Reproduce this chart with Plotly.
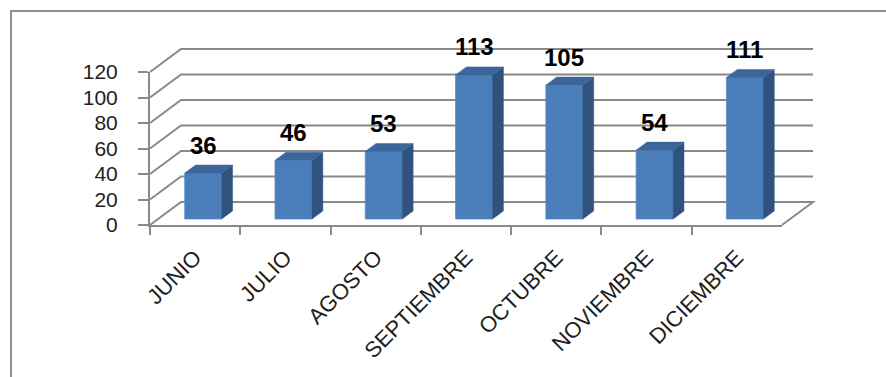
import plotly.graph_objects as go

categories = ["JUNIO", "JULIO", "AGOSTO", "SEPTIEMBRE", "OCTUBRE", "NOVIEMBRE", "DICIEMBRE"]
values = [36, 46, 53, 113, 105, 54, 111]
y_ticks = [0, 20, 40, 60, 80, 100, 120]

W, H = 886, 377
GRAY = "#898989"
TXT = "#1E1E1E"
FRONT = "#4A7EBB"
SIDE = "#30527F"
TOP = "#3C659C"

# pixel geometry of the front (floor) axes
FX0, FX1 = 150, 782
FY0, FYT = 225, 72
SX = (FX1 - FX0) / len(categories)
SY = (FY0 - FYT) / y_ticks[-1]
dxu = 31 / SX          # depth offset in x units
dyu = 23 / SY          # depth offset in value units
F0 = 0.26              # depth fraction of bar front face
BD = 0.35              # bar depth fraction
BW = 37 / SX           # bar width in x units

def px2x(p):
    return -0.5 + (p - FX0) / SX

def py2y(p):
    return (FY0 - p) / SY

# subplot 2 (3D drawing) domain in px
D2X0, D2X1 = 138, 840
D2YB, D2YT = 234, 26

fig = go.Figure()

# invisible trace to establish the front category axis
fig.add_trace(go.Scatter(x=categories, y=values, mode="none", hoverinfo="skip",
                         showlegend=False, xaxis="x", yaxis="y"))

n = len(categories)
xs_front = [i + F0 * dxu for i in range(n)]
base = F0 * dyu
fig.add_trace(go.Bar(x=xs_front, y=values, base=base, width=BW,
                     marker=dict(color=FRONT, line=dict(color="#5A8CC8", width=0.8)),
                     showlegend=False, hoverinfo="skip", xaxis="x2", yaxis="y2"))

bdx, bdy = BD * dxu, BD * dyu
for i, v in enumerate(values):
    xl = xs_front[i] - BW / 2
    xr = xs_front[i] + BW / 2
    top = base + v
    # side face
    fig.add_trace(go.Scatter(
        x=[xr, xr + bdx, xr + bdx, xr, xr],
        y=[base, base + bdy, top + bdy, top, base],
        fill="toself", fillcolor=SIDE, mode="lines", line=dict(color=SIDE, width=0.5),
        showlegend=False, hoverinfo="skip", xaxis="x2", yaxis="y2"))
    # top face
    fig.add_trace(go.Scatter(
        x=[xl, xr, xr + bdx, xl + bdx, xl],
        y=[top, top, top + bdy, top + bdy, top],
        fill="toself", fillcolor=TOP, mode="lines", line=dict(color=TOP, width=0.5),
        showlegend=False, hoverinfo="skip", xaxis="x2", yaxis="y2"))

shapes = []
xl_end = -0.5
xr_end = n - 0.5
for t in y_ticks:
    path = f"M {xl_end},{t} L {xl_end + dxu},{t + dyu} L {xr_end + dxu},{t + dyu}"
    if t == 0:
        path += f" L {xr_end},{t}"
    shapes.append(dict(type="path", path=path, xref="x2", yref="y2", layer="below",
                       line=dict(color=GRAY, width=2)))

# outer frame
shapes.append(dict(type="path", xref="paper", yref="paper",
                   path=f"M {11/W},0 L {11/W},{1-11/H} L 1,{1-11/H}",
                   line=dict(color="#8E8E8E", width=2)))

annotations = []
for i, v in enumerate(values):
    annotations.append(dict(x=xs_front[i], y=base + v, xref="x2", yref="y2",
                            text="<b>" + str(v) + "</b>", showarrow=False, yshift=28,
                            xanchor="center", yanchor="middle",
                            font=dict(family="Liberation Sans", size=24, color="#000000")))

fig.update_layout(
    width=W, height=H,
    margin=dict(l=0, r=0, t=0, b=0, autoexpand=False),
    paper_bgcolor="white", plot_bgcolor="rgba(0,0,0,0)",
    font=dict(family="Liberation Sans", color=TXT),
    shapes=shapes, annotations=annotations,
    xaxis=dict(domain=[FX0 / W, FX1 / W], type="category", range=[-0.5, n - 0.5],
               categoryarray=categories, categoryorder="array", automargin=False,
               tickson="boundaries", ticks="outside", ticklen=8, tickwidth=2, tickcolor=GRAY,
               showline=True, linecolor=GRAY, linewidth=2, showgrid=False, zeroline=False,
               tickangle=-45, tickfont=dict(size=22, color=TXT), ticklabelstandoff=9,
               anchor="y"),
    yaxis=dict(domain=[(H - FY0) / H, (H - FYT) / H], range=[0, y_ticks[-1]], automargin=False,
               tickvals=y_ticks, ticks="outside", ticklen=10, tickwidth=2, tickcolor=GRAY,
               showline=True, linecolor=GRAY, linewidth=2, showgrid=False, zeroline=False,
               tickfont=dict(size=21, color=TXT), ticklabelstandoff=16, anchor="x"),
    xaxis2=dict(domain=[D2X0 / W, D2X1 / W], range=[px2x(D2X0), px2x(D2X1)], automargin=False,
                visible=False, anchor="y2", fixedrange=True),
    yaxis2=dict(domain=[(H - D2YB) / H, (H - D2YT) / H], range=[py2y(D2YB), py2y(D2YT)],
                automargin=False, visible=False, anchor="x2", fixedrange=True),
)

fig.write_html("out.html")
